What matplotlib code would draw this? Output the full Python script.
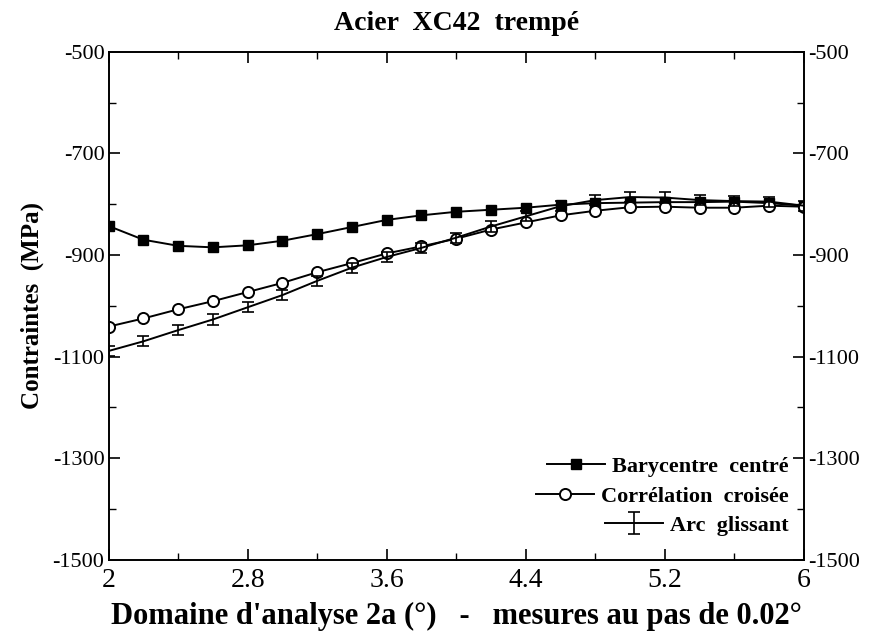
import matplotlib
matplotlib.use("Agg")
import matplotlib.pyplot as plt

# domaine d'analyse (deg), pas de 0.2
x = [2.0, 2.2, 2.4, 2.6, 2.8, 3.0, 3.2, 3.4, 3.6, 3.8, 4.0,
     4.2, 4.4, 4.6, 4.8, 5.0, 5.2, 5.4, 5.6, 5.8, 6.0]

# contraintes (MPa)
bary = [-843, -870, -882, -885, -881, -872, -859, -845, -831, -822, -815,
        -811, -807, -801, -798, -797, -796, -796, -795, -798, -803]
corr = [-1041, -1025, -1007, -991, -973, -955, -934, -916, -897, -883, -868,
        -850, -836, -822, -813, -806, -805, -807, -807, -803, -805]
arc = [-1089, -1070, -1048, -1027, -1003, -979, -951, -925, -904, -886, -866,
       -844, -824, -804, -792, -786, -787, -792, -794, -795, -803]
arc_err = [10] * 21

labels = ["Barycentre  centré", "Corrélation  croisée", "Arc  glissant"]
xticks = [2, 2.8, 3.6, 4.4, 5.2, 6]
xtick_labels = ["2", "2.8", "3.6", "4.4", "5.2", "6"]
xminor = [2.4, 3.2, 4.0, 4.8, 5.6]
yticks = [-1500, -1300, -1100, -900, -700, -500]
yminor = [-1400, -1200, -1000, -800, -600]

plt.rcParams['font.family'] = ['Liberation Serif', 'DejaVu Serif']
plt.rcParams['axes.unicode_minus'] = False

fig = plt.figure(figsize=(8.69, 6.39), dpi=100)
ax = fig.add_axes([0.125, 0.124, 0.800, 0.795])

ax.plot(x, bary, color='black', lw=1.4, marker='s', ms=7, label=labels[0])
ax.plot(x, corr, color='black', lw=1.4, marker='o', ms=8, mfc='white',
        mew=1.4, label=labels[1])
ax.errorbar(x, arc, yerr=arc_err, color='black', lw=1.4, elinewidth=1.2,
            capsize=4, capthick=1.2, label=labels[2])

ax.set_xlim(2, 6)
ax.set_ylim(-1500, -500)
ax.set_xticks(xticks)
ax.set_xticklabels(xtick_labels)
ax.set_xticks(xminor, minor=True)
ax.set_yticks(yticks)
ax.set_yticks(yminor, minor=True)

ax.tick_params(which='both', direction='in', top=True, right=True,
               labelright=True)
ax.tick_params(which='major', length=8, width=1.2)
ax.tick_params(which='minor', length=5, width=1.0)
ax.tick_params(axis='y', labelsize=16, pad=3)
ax.tick_params(axis='x', labelsize=20, pad=6)
for s in ax.spines.values():
    s.set_linewidth(1.4)

ax.set_title("Acier  XC42  trempé", fontsize=20, fontweight='bold', pad=16)
ax.set_xlabel("Domaine d'analyse 2a (°)   -   mesures au pas de 0.02°",
              fontsize=22, fontweight='bold', labelpad=6)
ax.set_ylabel("Contraintes  (MPa)", fontsize=18, fontweight='bold', labelpad=6)

leg = ax.legend(loc='lower right', bbox_to_anchor=(1.0, 0.016), frameon=False,
                prop={'weight': 'bold', 'size': 16}, handlelength=2.6,
                handletextpad=0.3, labelspacing=0.4, borderaxespad=0.3)
# rows right-aligned like in the original (text flush right)
for col in leg._legend_handle_box.get_children():
    col.align = 'right'

fig.savefig("out.png", dpi=100)
